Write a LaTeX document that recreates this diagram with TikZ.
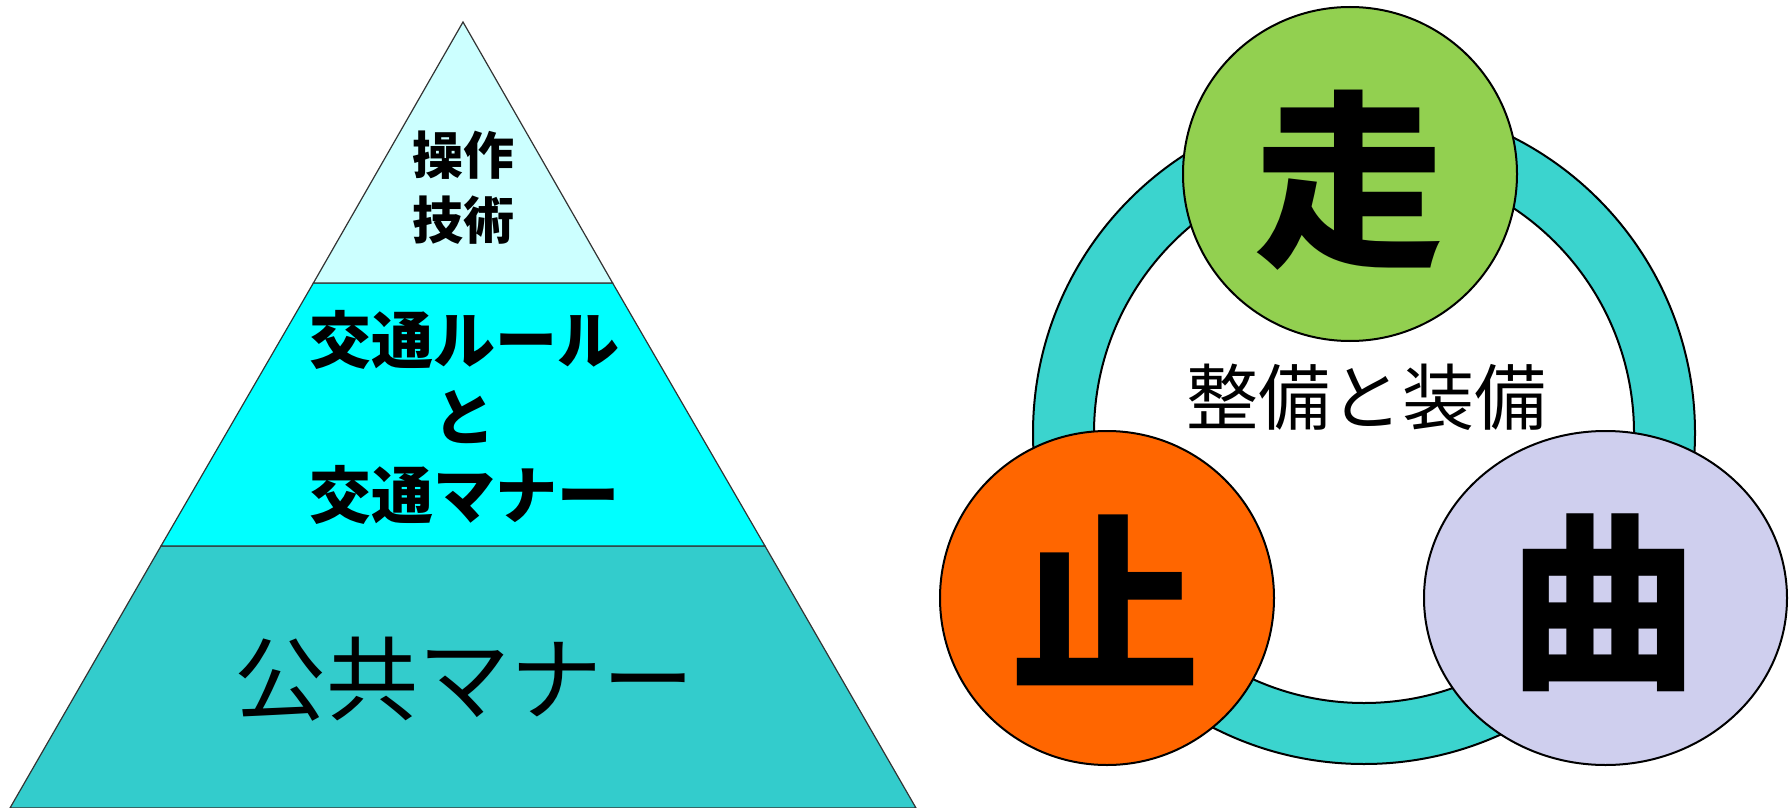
\documentclass[tikz,border=0pt]{standalone}
\usepackage{fontspec}
\usetikzlibrary{shapes.geometric}
\newfontfamily\jp{Noto Sans CJK JP}
\definecolor{cTop}{HTML}{CCFFFF}
\definecolor{cMid}{HTML}{00FFFF}
\definecolor{cBot}{HTML}{33CCCC}
\definecolor{cRing}{HTML}{3BD4CE}
\definecolor{cGreen}{HTML}{92D050}
\definecolor{cOrange}{HTML}{FF6600}
\definecolor{cLav}{HTML}{CFCFEE}
\definecolor{pline}{HTML}{333333}
\begin{document}
\begin{tikzpicture}[x=1pt,y=-1pt,
  lbl/.style={font=\jp, inner sep=0pt, anchor=center, text=black},
  layer/.style={draw=pline, line width=1.2pt, line join=miter},
  bubble/.style={draw=black, line width=2pt, inner sep=0pt}]
\useasboundingbox (0,0) rectangle (1789,808);
\fill[white] (0,0) rectangle (1789,808);
% pyramid
\filldraw[layer, fill=cBot] (161,546) -- (765,546) -- (916,808) -- (10,808) -- cycle;
\filldraw[layer, fill=cMid] (313.4,283) -- (612.6,283) -- (765,546) -- (161,546) -- cycle;
\filldraw[layer, fill=cTop] (463,22) -- (612.6,283) -- (313.4,283) -- cycle;
\node[lbl, font=\jp\bfseries\fontsize{51}{51}\selectfont] (t1) at (463,155) {操作};
\node[lbl, font=\jp\bfseries\fontsize{51}{51}\selectfont] (t2) at (463,220) {技術};
\node[lbl, font=\jp\bfseries\fontsize{62}{62}\selectfont] (m1) at (464,340) {交通ルール};
\node[lbl, font=\jp\bfseries\fontsize{62}{62}\selectfont] (m2) at (464,417) {と};
\node[lbl, font=\jp\bfseries\fontsize{62}{62}\selectfont] (m3) at (464,495) {交通マナー};
\node[lbl, font=\jp\fontsize{92}{92}\selectfont] (b1) at (464,679) {公共マナー};
% ring
\filldraw[fill=cRing, draw=black, line width=2pt, even odd rule]
  (1364,433) circle[radius=331] (1364,433) circle[radius=270];
\node[lbl, font=\jp\fontsize{72}{72}\selectfont] (c0) at (1366,397) {整備と装備};
% bubbles
\node[bubble, circle, fill=cGreen, minimum size=334pt] (run) at (1350,174) {};
\node[bubble, circle, fill=cOrange, minimum size=334pt] (stop) at (1107,598) {};
\node[bubble, ellipse, fill=cLav, minimum width=363pt, minimum height=334pt] (turn) at (1605.5,598) {};
\node[lbl, font=\jp\bfseries\fontsize{190}{190}\selectfont] (k1) at (1349,180) {走};
\node[lbl, font=\jp\bfseries\fontsize{190}{190}\selectfont] (k2) at (1105,600) {止};
\node[lbl, font=\jp\bfseries\fontsize{190}{190}\selectfont] (k3) at (1603,603) {曲};
\end{tikzpicture}
\end{document}
